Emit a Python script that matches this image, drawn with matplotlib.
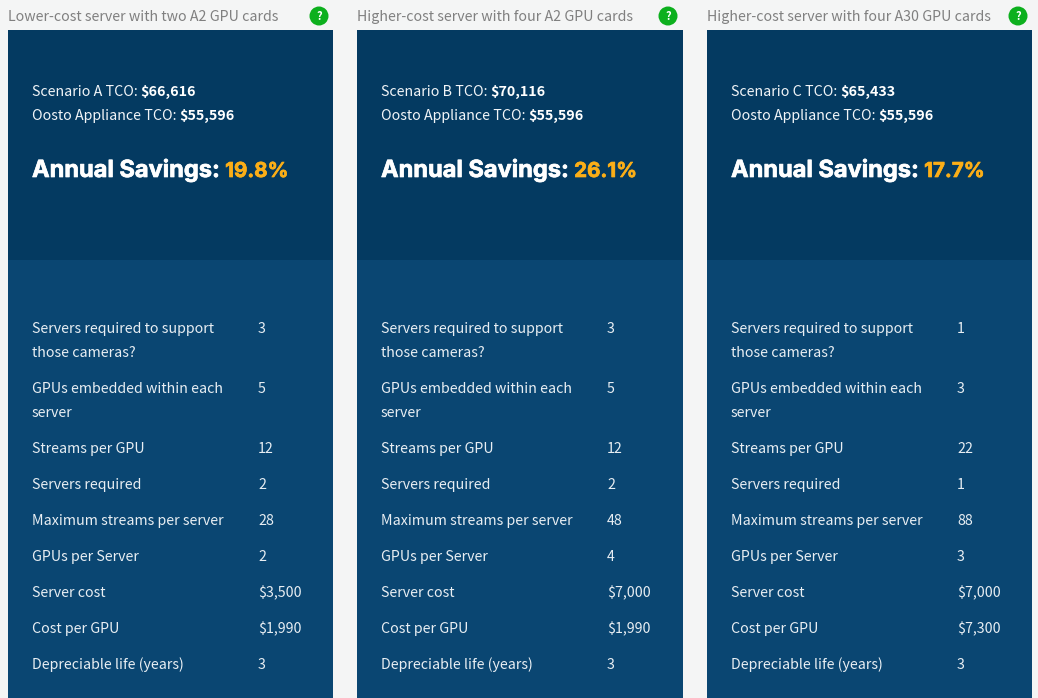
import matplotlib as mpl
import matplotlib.pyplot as plt
from matplotlib.patches import Rectangle, Circle
from matplotlib.patheffects import withStroke

mpl.use('Agg')

BODY_FONT = ['Noto Sans CJK JP', 'DejaVu Sans']
HEAD_FONT = ['Inter', 'DejaVu Sans']
BODY_SIZE = 10.25

titles = ["Lower-cost server with two A2 GPU cards",
          "Higher-cost server with four A2 GPU cards",
          "Higher-cost server with four A30 GPU cards"]
scenarios = ["Scenario A TCO:", "Scenario B TCO:", "Scenario C TCO:"]
tco = ["$66,616", "$70,116", "$65,433"]
appliance_tco = ["$55,596", "$55,596", "$55,596"]
savings = ["19.8%", "26.1%", "17.7%"]

row_labels = ["Servers required to support\nthose cameras?",
              "GPUs embedded within each\nserver",
              "Streams per GPU",
              "Servers required",
              "Maximum streams per server",
              "GPUs per Server",
              "Server cost",
              "Cost per GPU",
              "Depreciable life (years)"]
values_a = ["3", "5", "12", "2", "28", "2", "$3,500", "$1,990", "3"]
values_b = ["3", "5", "12", "2", "48", "4", "$7,000", "$1,990", "3"]
values_c = ["1", "3", "22", "1", "88", "3", "$7,000", "$7,300", "3"]
row_values = [values_a, values_b, values_c]

panel_left = [8, 357, 707]
panel_width = [325, 326, 325]
row_y = [333, 393, 453, 489, 525, 561, 597, 633, 669]

fig = plt.figure(figsize=(10.38, 6.98), dpi=100, facecolor='#f4f5f5')
ax = fig.add_axes([0, 0, 1, 1])
ax.set_xlim(0, 1038)
ax.set_ylim(698, 0)
ax.axis('off')


def text_run(x, y, s, gap=3, **kw):
    # draw text and give back where it ends, so the next run can follow it
    t = ax.text(x, y, s, va='baseline', ha='left', **kw)
    box = t.get_window_extent(fig.canvas.get_renderer())
    return x + box.width + gap


for i in range(3):
    left = panel_left[i]
    ax.add_patch(Rectangle((left, 30), panel_width[i], 230, fc='#043a61', ec='none'))
    ax.add_patch(Rectangle((left, 260), panel_width[i], 438, fc='#0a4672', ec='none'))

    ax.text(left, 21, titles[i], family=BODY_FONT, fontsize=BODY_SIZE,
            color='#808080', va='baseline')
    ax.add_patch(Circle((left + 311, 16), 9.5, fc='#0db01e', ec='none'))
    ax.text(left + 311, 20, "?", family=BODY_FONT, fontsize=8, weight='bold',
            color='white', ha='center', va='baseline')

    x = text_run(left + 24, 96, scenarios[i], family=BODY_FONT, fontsize=BODY_SIZE, color='#f2f5f8')
    text_run(x, 96, tco[i], family=BODY_FONT, fontsize=BODY_SIZE, weight='bold', color='white')
    x = text_run(left + 24, 120, "Oosto Appliance TCO:", family=BODY_FONT, fontsize=BODY_SIZE, color='#f2f5f8')
    text_run(x, 120, appliance_tco[i], family=BODY_FONT, fontsize=BODY_SIZE, weight='bold', color='white')

    # the heading font in the original is heavier than Inter bold
    thick = [withStroke(linewidth=0.5, foreground='white')]
    x = text_run(left + 24, 177, "Annual Savings:", gap=5, family=HEAD_FONT, fontsize=17,
                 weight='bold', color='white', path_effects=thick)
    thick = [withStroke(linewidth=0.5, foreground='#fbae17')]
    text_run(x, 177, savings[i], family=HEAD_FONT, fontsize=14.8, weight='bold',
             color='#fbae17', path_effects=thick)

    for label, val, y in zip(row_labels, row_values[i], row_y):
        for k, line in enumerate(label.split("\n")):
            ax.text(left + 24, y + k * 24, line, family=BODY_FONT, fontsize=BODY_SIZE,
                    color='#e8eef3', va='baseline')
        ax.text(left + 250, y, val, family=BODY_FONT, fontsize=BODY_SIZE,
                color='#e8eef3', va='baseline')

fig.savefig('out.png', dpi=100, facecolor=fig.get_facecolor())
